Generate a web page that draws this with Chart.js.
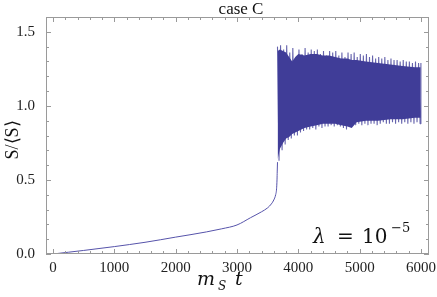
<!DOCTYPE html>
<html>
<head>
<meta charset="utf-8">
<script src="https://cdn.jsdelivr.net/npm/chart.js@4"></script>
<style>
  html, body { margin: 0; padding: 0; background: #fff; }
</style>
</head>
<body>
<canvas id="chart" width="437" height="297"></canvas>
<script>
// montée lente avant l'explosion
const riseTime = [0, 250, 500, 750, 1000, 1250, 1500, 1750, 2000, 2250, 2500, 2750, 3000, 3220, 3400, 3500, 3560, 3600, 3630, 3645, 3652, 3656, 3660];
const riseValue = [0, 0.012, 0.024, 0.037, 0.05, 0.064, 0.079, 0.096, 0.114, 0.131, 0.149, 0.17, 0.196, 0.245, 0.285, 0.312, 0.338, 0.365, 0.40, 0.44, 0.50, 0.56, 0.62];

// oscillations (maxima / minima alternés)
const oscTime = [3660, 3685, 3710, 3735, 3760, 3785, 3810, 3835, 3860, 3885, 3910, 3935, 3960, 3985, 4010, 4035, 4060, 4085, 4110, 4135,
  4160, 4185, 4210, 4235, 4260, 4285, 4310, 4335, 4360, 4385, 4410, 4435, 4460, 4485, 4510, 4535, 4560, 4585, 4610, 4635,
  4660, 4685, 4710, 4735, 4760, 4785, 4810, 4835, 4860, 4885, 4910, 4935, 4960, 4985, 5010, 5035, 5060, 5085, 5110, 5135,
  5160, 5185, 5210, 5235, 5260, 5285, 5310, 5335, 5360, 5385, 5410, 5435, 5460, 5485, 5510, 5535, 5560, 5585, 5610, 5635,
  5660, 5685, 5710, 5735, 5760, 5785, 5810, 5835, 5860, 5885, 5910, 5935, 5960, 5985, 5998];
const oscValue = [1.40, 0.63, 1.41, 0.70, 1.38, 0.74, 1.41, 0.77, 1.36, 0.78, 1.39, 0.80, 1.32, 0.80, 1.38, 0.82, 1.35, 0.83, 1.39, 0.84,
  1.36, 0.84, 1.38, 0.85, 1.37, 0.84, 1.38, 0.86, 1.35, 0.85, 1.37, 0.86, 1.34, 0.86, 1.37, 0.87, 1.36, 0.86, 1.37, 0.87,
  1.34, 0.86, 1.36, 0.85, 1.33, 0.84, 1.36, 0.86, 1.35, 0.88, 1.36, 0.87, 1.33, 0.88, 1.35, 0.87, 1.34, 0.88, 1.35, 0.87,
  1.33, 0.88, 1.34, 0.88, 1.32, 0.87, 1.33, 0.88, 1.32, 0.89, 1.33, 0.88, 1.31, 0.88, 1.32, 0.89, 1.31, 0.88, 1.31, 0.89,
  1.30, 0.88, 1.31, 0.89, 1.30, 0.88, 1.30, 0.89, 1.29, 0.88, 1.30, 0.89, 1.29, 0.88, 1.29];

// bords de la zone sombre (oscillations trop serrées pour être séparées)
const massTime = [3662, 3700, 3750, 3800, 3850, 3900, 3950, 4000, 4100, 4200, 4300, 4400, 4500, 4600, 4700, 4800, 4870, 4950, 5100, 5300, 5500, 5700, 5900, 5995];
const massTop = [1.37, 1.38, 1.37, 1.36, 1.33, 1.30, 1.33, 1.35, 1.34, 1.35, 1.35, 1.34, 1.34, 1.33, 1.32, 1.32, 1.31, 1.31, 1.30, 1.29, 1.28, 1.27, 1.26, 1.26];
const massBottom = [0.64, 0.71, 0.75, 0.78, 0.79, 0.81, 0.82, 0.83, 0.85, 0.86, 0.87, 0.88, 0.88, 0.88, 0.87, 0.86, 0.85, 0.89, 0.90, 0.90, 0.91, 0.91, 0.92, 0.92];

const xTicks = [0, 1000, 2000, 3000, 4000, 5000, 6000];
const yTicks = [0, 0.5, 1.0, 1.5];

const lineColor = "#403d98";
const risePoints = riseTime.map((t, i) => ({ x: t, y: riseValue[i] }));
const oscPoints = oscTime.map((t, i) => ({ x: t, y: oscValue[i] }));
const topPoints = massTime.map((t, i) => ({ x: t, y: massTop[i] }));
const bottomPoints = massTime.map((t, i) => ({ x: t, y: massBottom[i] }));

const serif = "'Liberation Serif', 'Times New Roman', serif";
const mathFont = "'DejaVu Serif', serif";
const frameColor = "#9a9a9a";

// cadre, graduations intérieures et textes
const decorations = {
  id: "decorations",
  afterDraw(chart) {
    const ctx = chart.ctx;
    const area = chart.chartArea;
    const xs = chart.scales.x;
    const ys = chart.scales.y;
    ctx.save();
    ctx.strokeStyle = frameColor;
    ctx.lineWidth = 1;
    ctx.strokeRect(area.left + 0.5, area.top + 0.5, area.right - area.left - 1, area.bottom - area.top - 1);

    ctx.beginPath();
    for (let v = 0; v <= 6000; v += 200) {
      const px = Math.round(xs.getPixelForValue(v)) + 0.5;
      const len = v % 1000 === 0 ? 5 : 3;
      ctx.moveTo(px, area.bottom);
      ctx.lineTo(px, area.bottom - len);
      ctx.moveTo(px, area.top);
      ctx.lineTo(px, area.top + len);
    }
    for (let i = 0; i <= 16; i++) {
      const py = Math.round(ys.getPixelForValue(i / 10)) + 0.5;
      const len = i % 5 === 0 ? 5 : 3;
      ctx.moveTo(area.left, py);
      ctx.lineTo(area.left + len, py);
      ctx.moveTo(area.right, py);
      ctx.lineTo(area.right - len, py);
    }
    ctx.stroke();

    ctx.fillStyle = "#111";
    ctx.textBaseline = "alphabetic";
    // titre
    ctx.font = "17px " + serif;
    ctx.textAlign = "center";
    ctx.fillText("case C", 241, 14);

    // axe x : m_S t
    ctx.textAlign = "left";
    ctx.font = "italic 19px " + mathFont;
    ctx.fillText("m", 197, 285);
    ctx.font = "italic 12px " + mathFont;
    ctx.fillText("S", 218, 290);
    ctx.font = "italic 19px " + mathFont;
    ctx.fillText("t", 235, 285);

    // axe y : S/⟨S⟩
    ctx.translate(18, 140);
    ctx.rotate(-Math.PI / 2);
    ctx.font = "18px " + serif;
    ctx.textAlign = "center";
    ctx.fillText("S/\u27E8S\u27E9", 0, 0);
    ctx.setTransform(1, 0, 0, 1, 0, 0);

    // annotation lambda
    ctx.textAlign = "left";
    ctx.font = "italic 20px " + mathFont;
    ctx.fillText("\u03BB", 313, 243);
    ctx.font = "20px " + mathFont;
    ctx.fillText("=", 337, 243);
    ctx.fillText("10", 362, 243);
    ctx.font = "13px " + mathFont;
    ctx.fillText("\u22125", 391, 232);
    ctx.restore();
  }
};

new Chart(document.getElementById("chart"), {
  type: "line",
  data: {
    datasets: [{
      data: topPoints,
      borderWidth: 0,
      pointRadius: 0,
      tension: 0,
      backgroundColor: lineColor,
      fill: "+1"
    }, {
      data: bottomPoints,
      borderWidth: 0,
      pointRadius: 0,
      tension: 0,
      fill: false
    }, {
      data: risePoints,
      borderColor: "#5653aa",
      borderWidth: 1,
      pointRadius: 0,
      cubicInterpolationMode: "monotone",
      fill: false
    }, {
      data: oscPoints,
      borderColor: "rgba(64, 61, 152, 0.8)",
      borderWidth: 1.1,
      borderJoinStyle: "bevel",
      pointRadius: 0,
      tension: 0,
      fill: false
    }]
  },
  options: {
    responsive: false,
    animation: false,
    devicePixelRatio: 1,
    layout: { padding: { top: 17, right: 8, left: 0, bottom: 0 } },
    plugins: { legend: { display: false }, tooltip: { enabled: false }, title: { display: false } },
    scales: {
      x: {
        type: "linear",
        min: -114,
        max: 6130,
        grid: { display: false },
        border: { display: false },
        afterBuildTicks: (scale) => { scale.ticks = xTicks.map((v) => ({ value: v })); },
        afterFit: (scale) => { scale.height = 43; },
        ticks: { font: { family: serif, size: 15 }, color: "#222", padding: -3, maxRotation: 0, autoSkip: false, callback: (v) => String(v) }
      },
      y: {
        type: "linear",
        min: 0,
        max: 1.6,
        grid: { display: false },
        border: { display: false },
        afterBuildTicks: (scale) => { scale.ticks = yTicks.map((v) => ({ value: v })); },
        afterFit: (scale) => { scale.width = 46; },
        ticks: { font: { family: serif, size: 15 }, color: "#222", padding: 3, callback: (v) => v.toFixed(1) }
      }
    }
  },
  plugins: [decorations]
});
</script>
</body>
</html>
